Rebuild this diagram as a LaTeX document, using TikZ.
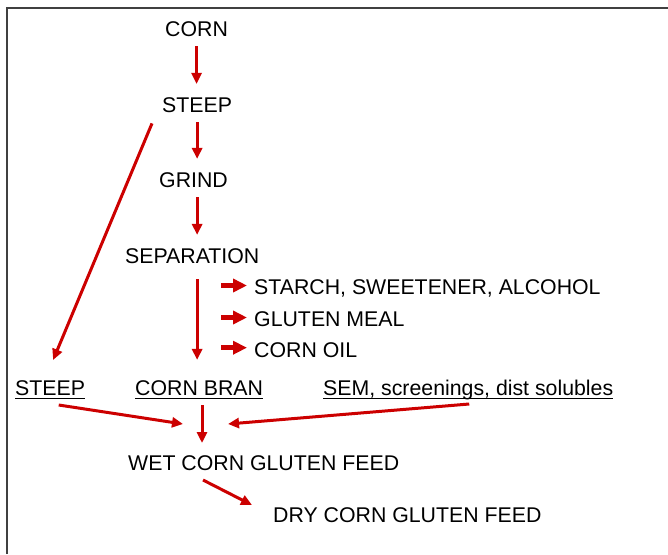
\documentclass[tikz,border=0pt]{standalone}
\usepackage{fontspec}
\setmainfont{Liberation Sans}
\usetikzlibrary{arrows.meta}
\definecolor{flowred}{RGB}{204,0,0}
\begin{document}
\begin{tikzpicture}[x=1pt,y=-1pt,
  lbl/.style={inner sep=0pt,anchor=base west,font=\fontsize{21.3}{25}\selectfont},
  flow/.style={draw=flowred,line width=3pt,-{Triangle[length=11pt,width=10pt]}},
  blockarrow/.style={draw=flowred,line width=5pt,-{Triangle[length=14pt,width=13pt]}},
  uline/.style={draw=black,line width=1.2pt}]
\useasboundingbox (0,0) rectangle (668,554);
\draw[black!75,line width=1.5pt] (7,554) -- (7,8) -- (668,8);

\node[lbl] (corn)   at (165,36)  {CORN};
\node[lbl] (steep)  at (162,112) {STEEP};
\node[lbl] (grind)  at (159,187) {GRIND};
\node[lbl] (sep)    at (125,263) {SEPARATION};
\node[lbl] (starch) at (254,294) {STARCH, SWEETENER, ALCOHOL};
\node[lbl] (gluten) at (254,326) {GLUTEN MEAL};
\node[lbl] (oil)    at (254,357) {CORN OIL};
\node[lbl] (steep2) at (15,395)  {STEEP};
\node[lbl] (bran)   at (135,395) {CORN BRAN};
\node[lbl] (sem)    at (323,395) {SEM, screenings, dist solubles};
\node[lbl] (wet)    at (128,470) {WET CORN GLUTEN FEED};
\node[lbl] (dry)    at (273,522) {DRY CORN GLUTEN FEED};

\coordinate (inL) at (183,424);
\coordinate (inR) at (228,424);

% underlines
\foreach \n in {steep2,bran,sem}
  \draw[uline] ([yshift=-3.3pt]\n.base west) -- ([yshift=-3.3pt]\n.base east);

% main chain
\draw[flow,shorten <=10pt,shorten >=13pt] (corn.south) -- (corn.south |- steep.north);
\draw[flow,shorten <=10pt,shorten >=13pt] (steep.south) -- (steep.south |- grind.north);
\draw[flow,shorten <=10pt,shorten >=13pt] (steep.south |- grind.south) -- (steep.south |- sep.north);
\draw[flow,shorten <=16pt,shorten >=20pt] (steep.south |- sep.south) -- (steep.south |- bran.north);

% steep bypass
\draw[flow] ([xshift=-10pt,yshift=-11pt]steep.south west) -- ([xshift=3pt,yshift=35pt]steep2.base);

% side products
\draw[blockarrow] ([xshift=-33pt,yshift=8.5pt]starch.base west) -- ([xshift=-7pt,yshift=8.5pt]starch.base west);
\draw[blockarrow] ([xshift=-33pt,yshift=8.5pt]gluten.base west) -- ([xshift=-7pt,yshift=8.5pt]gluten.base west);
\draw[blockarrow] ([xshift=-33pt,yshift=9.3pt]oil.base west) -- ([xshift=-7pt,yshift=9.3pt]oil.base west);

% into wet feed
\draw[flow] ([xshift=8.6pt,yshift=-10pt]steep2.base) -- (inL);
\draw[flow] ([xshift=67pt,yshift=-10pt]bran.base west) -- ([xshift=67pt,yshift=-48pt]bran.base west);
\draw[flow] ([xshift=1pt,yshift=-9pt]sem.base) -- (inR);

% wet to dry
\draw[flow] ([xshift=75pt,yshift=-10pt]wet.base west) -- ([xshift=-21pt,yshift=17pt]dry.base west);
\end{tikzpicture}
\end{document}
